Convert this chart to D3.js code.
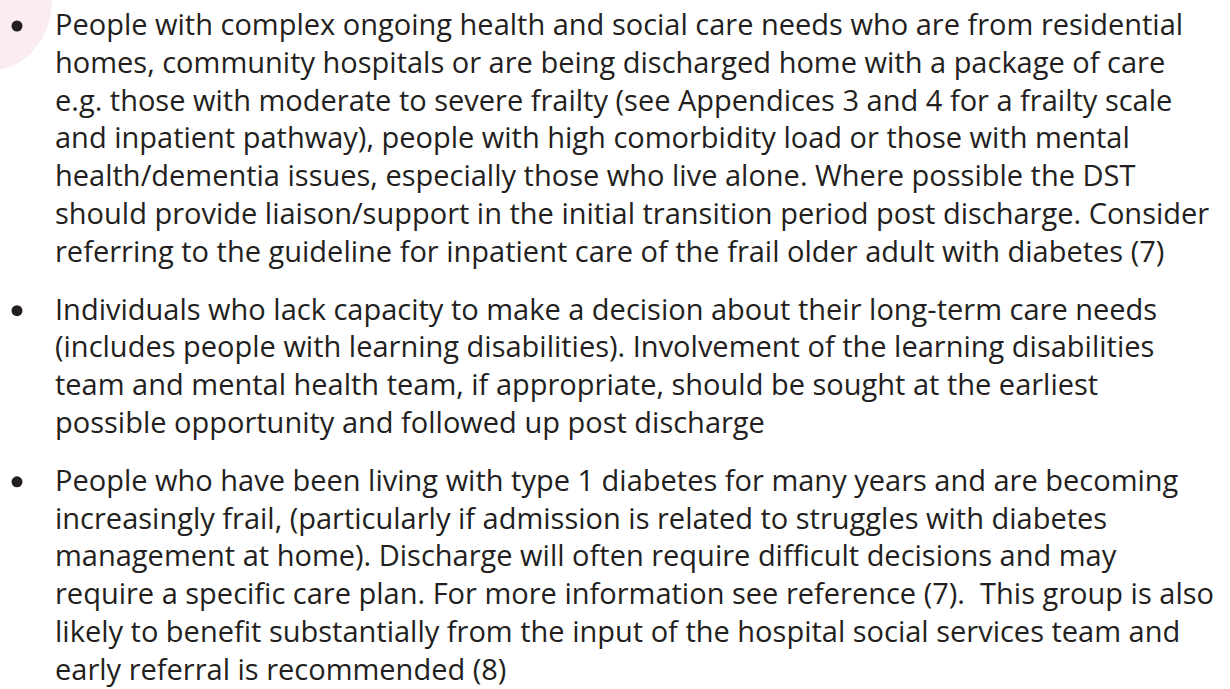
<!DOCTYPE html>
<html>
<head>
<meta charset="utf-8">
<script src="https://cdn.jsdelivr.net/npm/d3@7"></script>
<style>
  html, body { margin: 0; padding: 0; background: #ffffff; }
  svg { display: block; }
  text { white-space: pre; }
</style>
</head>
<body>
<div id="chart"></div>
<script>
const WIDTH = 1230;
const HEIGHT = 689;
const TEXT_COLOR = "#231f20";
const PINK = "#fbedef";

// bullet texts, one entry per printed line
const bullet1Lines = [
  "People with complex ongoing health and social care needs who are from residential",
  "homes, community hospitals or are being discharged home with a package of care",
  "e.g. those with moderate to severe frailty (see Appendices 3 and 4 for a frailty scale",
  "and inpatient pathway), people with high comorbidity load or those with mental",
  "health/dementia issues, especially those who live alone. Where possible the DST",
  "should provide liaison/support in the initial transition period post discharge. Consider",
  "referring to the guideline for inpatient care of the frail older adult with diabetes (7)"
];
const bullet2Lines = [
  "Individuals who lack capacity to make a decision about their long-term care needs",
  "(includes people with learning disabilities). Involvement of the learning disabilities",
  "team and mental health team, if appropriate, should be sought at the earliest",
  "possible opportunity and followed up post discharge"
];
const bullet3Lines = [
  "People who have been living with type 1 diabetes for many years and are becoming",
  "increasingly frail, (particularly if admission is related to struggles with diabetes",
  "management at home). Discharge will often require difficult decisions and may",
  "require a specific care plan. For more information see reference (7).  This group is also",
  "likely to benefit substantially from the input of the hospital social services team and",
  "early referral is recommended (8)"
];
const bullets = [bullet1Lines, bullet2Lines, bullet3Lines];

const LINE_H = 37.8;
const GAP = 0.53; // extra space between bullets, in lines
const FONT_SIZE = 29;
const TEXT_X = 55;
const BULLET_X = 17;

// slot -> baseline
const y = d3.scaleLinear().domain([0, 1]).range([35, 35 + LINE_H]);

const rows = [];
let slot = 0;
bullets.forEach((lines, b) => {
  lines.forEach((t, i) => {
    rows.push({ text: t, slot: slot, first: i === 0 });
    slot += 1;
  });
  slot += GAP;
});

const svg = d3.select("#chart")
  .append("svg")
  .attr("width", WIDTH)
  .attr("height", HEIGHT);

// pink blob in the corner
svg.append("ellipse")
  .attr("cx", -8)
  .attr("cy", 0)
  .attr("rx", 60)
  .attr("ry", 70)
  .attr("fill", PINK);

const g = svg.append("g")
  .style("font-family", "'Open Sans', 'Noto Sans', sans-serif")
  .style("font-size", FONT_SIZE + "px")
  .attr("fill", TEXT_COLOR);

g.selectAll("circle.dot")
  .data(rows.filter(d => d.first))
  .enter()
  .append("circle")
  .attr("class", "dot")
  .attr("cx", BULLET_X)
  .attr("cy", d => y(d.slot) - 9)
  .attr("r", 5.5)
  .attr("fill", TEXT_COLOR);

g.selectAll("text.line")
  .data(rows)
  .enter()
  .append("text")
  .attr("class", "line")
  .attr("x", TEXT_X)
  .attr("y", d => y(d.slot))
  .text(d => d.text);
</script>
</body>
</html>
